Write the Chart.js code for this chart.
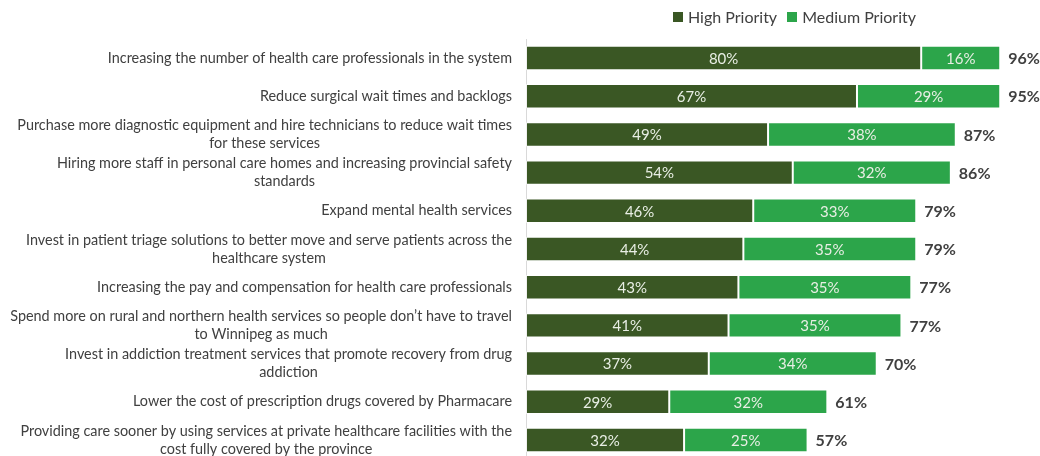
<!DOCTYPE html>
<html>
<head>
<meta charset="utf-8">
<script src="https://cdn.jsdelivr.net/npm/chart.js@4.4.1/dist/chart.umd.min.js"></script>
<style>
    body { margin: 0; overflow: hidden; background: #fff; font-family: Lato, sans-serif; }
    #wrap { position: relative; width: 1040px; height: 462px; }
    #legend { position: absolute; top: 7px; left: 673px; display: flex; align-items: center; font-size: 16px; color: #404040; }
    #legend span.box { display: inline-block; width: 10px; height: 10px; margin-right: 5px; }
    #legend span.item { display: flex; align-items: center; margin-right: 10px; }
</style>
</head>
<body>
<div id="wrap">
    <canvas id="priorityChart"></canvas>
    <div id="legend"></div>
</div>
<script>
// chart data
const categories = [
    ['Increasing the number of health care professionals in the system'],
    ['Reduce surgical wait times and backlogs'],
    ['Purchase more diagnostic equipment and hire technicians to reduce wait times', 'for these services'],
    ['Hiring more staff in personal care homes and increasing provincial safety', 'standards'],
    ['Expand mental health services'],
    ['Invest in patient triage solutions to better move and serve patients across the', 'healthcare system'],
    ['Increasing the pay and compensation for health care professionals'],
    ['Spend more on rural and northern health services so people don\u2019t have to travel', 'to Winnipeg as much'],
    ['Invest in addiction treatment services that promote recovery from drug', 'addiction'],
    ['Lower the cost of prescription drugs covered by Pharmacare'],
    ['Providing care sooner by using services at private healthcare facilities with the', 'cost fully covered by the province']
];
const highPriority = [80, 67, 49, 54, 46, 44, 43, 41, 37, 29, 32];
const mediumPriority = [16, 29, 38, 32, 33, 35, 35, 35, 34, 32, 25];
const totals = [96, 95, 87, 86, 79, 79, 77, 77, 70, 61, 57];

const seriesNames = ['High Priority', 'Medium Priority'];
const seriesColors = ['#3a5724', '#2ca54a'];
const textColor = '#404040';

// category labels drawn by hand so wrapped lines are centered in a right-aligned block
const categoryLabels = {
    id: 'categoryLabels',
    afterDraw(chart) {
        const ctx = chart.ctx;
        const yScale = chart.scales.y;
        const right = 512;
        const lineHeight = 18;
        ctx.save();
        ctx.font = '14.4px Lato, sans-serif';
        ctx.fillStyle = textColor;
        ctx.textAlign = 'center';
        ctx.textBaseline = 'middle';
        categories.forEach(function (lines, i) {
            const y = yScale.getPixelForValue(i);
            const blockWidth = Math.max.apply(null, lines.map(l => ctx.measureText(l).width));
            const cx = right - blockWidth / 2;
            const top = y - (lines.length - 1) * lineHeight / 2;
            lines.forEach(function (line, j) {
                ctx.fillText(line, cx, top + j * lineHeight);
            });
        });
        ctx.restore();
    }
};

// values inside segments and totals at the end of each bar
const valueLabels = {
    id: 'valueLabels',
    afterDatasetsDraw(chart) {
        const ctx = chart.ctx;
        ctx.save();
        ctx.textBaseline = 'middle';
        ctx.textAlign = 'center';
        ctx.font = '15px Lato, sans-serif';
        ctx.fillStyle = '#e8eee4';
        chart.data.datasets.forEach(function (ds, di) {
            const meta = chart.getDatasetMeta(di);
            meta.data.forEach(function (bar, i) {
                const mid = (bar.x + bar.base) / 2;
                ctx.fillText(ds.data[i] + '%', mid, bar.y + 1);
            });
        });
        const last = chart.getDatasetMeta(1);
        ctx.textAlign = 'left';
        ctx.font = 'bold 16px Lato, sans-serif';
        ctx.fillStyle = textColor;
        last.data.forEach(function (bar, i) {
            ctx.fillText(totals[i] + '%', bar.x + 8, bar.y + 1);
        });
        ctx.restore();
    }
};

const legendEl = document.getElementById('legend');
seriesNames.forEach(function (name, i) {
    const item = document.createElement('span');
    item.className = 'item';
    item.innerHTML = '<span class="box" style="background:' + seriesColors[i] + '"></span>' + name;
    legendEl.appendChild(item);
});

const ctx = document.getElementById('priorityChart').getContext('2d');
const priorityChart = new Chart(ctx, {
    type: 'bar',
    data: {
        labels: categories.map(c => c.join(' ')),
        datasets: [
            {
                label: seriesNames[0],
                data: highPriority,
                backgroundColor: seriesColors[0],
                borderColor: 'rgba(255,255,255,0.6)',
                borderWidth: 1,
                borderSkipped: false,
                categoryPercentage: 1,
                barPercentage: 0.64
            },
            {
                label: seriesNames[1],
                data: mediumPriority,
                backgroundColor: seriesColors[1],
                borderColor: 'rgba(255,255,255,0.6)',
                borderWidth: 1,
                borderSkipped: false,
                categoryPercentage: 1,
                barPercentage: 0.64
            }
        ]
    },
    options: {
        indexAxis: 'y',
        responsive: true,
        maintainAspectRatio: false,
        animation: false,
        layout: {
            padding: { top: 39, bottom: 3, left: 518, right: 20 }
        },
        scales: {
            x: {
                stacked: true,
                min: 0,
                max: 100,
                display: false
            },
            y: {
                stacked: true,
                ticks: { display: false },
                grid: { display: false },
                border: { display: true, color: '#d9d9d9', width: 1 }
            }
        },
        plugins: {
            legend: { display: false },
            tooltip: { enabled: false }
        }
    },
    plugins: [categoryLabels, valueLabels]
});
</script>
</body>
</html>
